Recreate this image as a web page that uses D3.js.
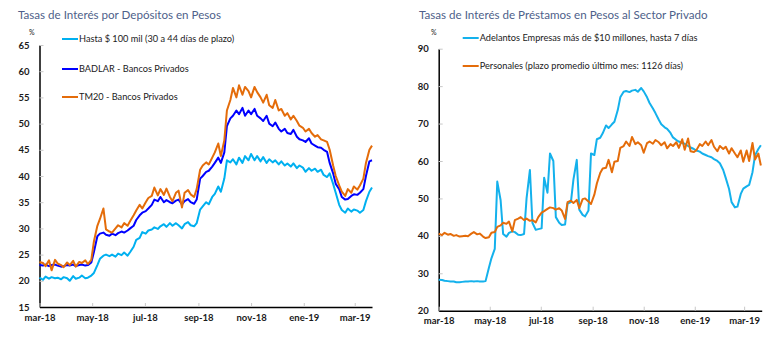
<!DOCTYPE html>
<html>
<head>
<meta charset="utf-8">
<script src="https://cdn.jsdelivr.net/npm/d3@7/dist/d3.min.js"></script>
<style>
body { margin: 0; background: #fff; }
svg text { font-family: Lato, "Open Sans", sans-serif; }
</style>
</head>
<body>
<svg width="779" height="340"></svg>
<script>
// dates shared by both panels (two readings per week)
const dates = [
  "2018-03-01","2018-03-05","2018-03-08","2018-03-12","2018-03-15","2018-03-19","2018-03-22","2018-03-26","2018-03-29",
  "2018-04-02","2018-04-05","2018-04-09","2018-04-12","2018-04-16","2018-04-19","2018-04-23","2018-04-26","2018-04-30",
  "2018-05-03","2018-05-07","2018-05-10","2018-05-14","2018-05-17","2018-05-21","2018-05-24","2018-05-28","2018-05-31",
  "2018-06-04","2018-06-07","2018-06-11","2018-06-14","2018-06-18","2018-06-21","2018-06-25","2018-06-28",
  "2018-07-02","2018-07-05","2018-07-09","2018-07-12","2018-07-16","2018-07-19","2018-07-23","2018-07-26","2018-07-30",
  "2018-08-02","2018-08-06","2018-08-09","2018-08-13","2018-08-16","2018-08-20","2018-08-23","2018-08-27","2018-08-30",
  "2018-09-03","2018-09-06","2018-09-10","2018-09-13","2018-09-17","2018-09-20","2018-09-24","2018-09-27",
  "2018-10-01","2018-10-04","2018-10-08","2018-10-11","2018-10-15","2018-10-18","2018-10-22","2018-10-25","2018-10-29",
  "2018-11-01","2018-11-05","2018-11-08","2018-11-12","2018-11-15","2018-11-19","2018-11-22","2018-11-26","2018-11-29",
  "2018-12-03","2018-12-06","2018-12-10","2018-12-13","2018-12-17","2018-12-20","2018-12-24","2018-12-27","2018-12-31",
  "2019-01-03","2019-01-07","2019-01-10","2019-01-14","2019-01-17","2019-01-21","2019-01-24","2019-01-28","2019-01-31",
  "2019-02-04","2019-02-07","2019-02-11","2019-02-14","2019-02-18","2019-02-21","2019-02-25","2019-02-28",
  "2019-03-04","2019-03-07","2019-03-11","2019-03-14","2019-03-18","2019-03-21"
];

// left panel: deposit rates (%)
const hasta100 = [
  20.6,20.2,20.8,20.4,20.7,20.5,20.6,20.3,20.7,
  20.5,20.0,20.9,20.4,20.6,21.0,20.5,20.6,21.0,
  21.5,23.0,24.2,24.8,25.0,24.7,25.0,24.6,25.2,
  24.9,25.4,24.8,25.5,26.5,27.8,28.2,29.3,
  29.0,29.6,29.8,30.2,29.9,30.4,30.8,30.3,31.0,
  30.5,31.0,30.6,30.0,30.8,31.2,30.6,30.4,31.0,
  33.6,34.2,35.0,34.6,36.0,36.6,38.0,37.0,
  39.5,43.0,42.6,43.2,42.2,43.5,42.5,43.8,43.0,
  44.2,43.0,43.8,42.8,43.6,42.5,43.2,42.6,43.0,
  42.2,42.8,42.0,42.4,41.8,42.4,41.5,42.0,41.6,
  40.8,41.5,41.0,41.4,40.8,41.2,40.2,39.8,40.5,
  38.5,36.8,34.5,33.5,33.0,33.8,33.2,33.6,
  33.4,33.0,33.5,35.2,37.0,37.8
];
const badlar = [
  23.0,22.9,23.1,22.8,23.0,23.1,22.9,22.7,22.8,
  23.0,22.9,23.1,22.8,23.0,23.1,22.9,23.0,23.5,
  25.5,28.5,29.0,29.2,28.8,28.6,29.0,28.7,29.1,
  29.4,29.2,29.6,30.0,30.5,31.6,32.5,33.0,
  33.3,33.8,34.5,35.5,35.2,36.0,35.0,35.4,35.0,
  34.8,35.3,35.5,34.6,35.2,35.6,35.0,34.7,35.5,
  39.5,40.0,40.8,41.0,41.8,42.5,43.5,42.5,
  44.5,49.5,51.0,51.5,52.5,51.8,53.0,51.5,52.5,
  51.8,52.8,51.5,51.0,50.5,51.5,50.0,49.5,50.2,
  49.0,48.5,49.0,48.2,48.0,48.8,47.5,47.0,46.8,
  46.5,47.2,46.2,45.8,45.5,45.4,45.0,44.6,42.5,
  40.5,38.5,37.5,36.0,35.5,35.6,36.2,36.5,
  36.4,36.8,37.5,40.0,42.8,43.0
];
const tm20 = [
  23.6,23.4,22.8,23.9,22.0,24.0,23.3,23.0,22.6,
  23.5,23.0,23.8,22.7,23.6,23.4,23.9,23.2,24.0,
  27.5,30.5,31.8,33.8,29.8,29.4,29.2,30.0,30.6,
  30.2,31.0,30.5,31.4,32.5,33.4,34.5,33.8,
  35.0,35.8,36.2,37.8,36.3,37.5,36.4,37.6,36.0,
  35.2,36.8,37.2,34.0,36.8,37.3,36.5,36.0,37.5,
  41.2,42.0,42.6,42.2,43.5,44.5,46.2,43.8,
  46.8,52.5,54.5,56.8,55.0,57.3,55.5,57.0,56.2,
  55.0,57.0,56.0,55.0,54.0,55.5,53.5,53.0,54.5,
  52.5,52.8,51.5,52.0,50.8,51.5,50.5,49.6,49.2,
  48.5,49.0,48.2,47.5,47.8,47.0,46.8,46.5,45.0,
  42.0,40.0,38.2,37.0,36.2,37.5,36.8,38.0,
  37.4,38.2,39.5,42.5,45.0,45.8
];

// right panel: loan rates (%)
const adelantos = [
  28.3,28.2,28.0,27.9,27.8,27.8,27.6,27.6,27.7,
  27.8,27.8,27.9,27.8,27.9,27.8,27.8,27.9,31.5,
  34.0,36.5,54.5,49.5,40.5,39.8,40.8,41.2,41.0,
  40.3,40.2,40.5,50.0,57.6,43.5,41.6,41.8,
  42.0,55.5,51.5,62.0,60.0,45.0,43.5,42.9,43.0,
  48.6,49.0,55.0,60.3,47.0,45.6,45.2,46.8,62.0,
  61.6,65.8,66.2,67.4,69.5,68.8,69.8,70.5,
  73.6,77.0,78.5,78.7,78.4,78.8,79.0,78.5,79.5,
  78.6,77.0,75.5,74.0,72.8,71.0,69.8,69.0,68.6,
  67.5,66.3,65.6,65.2,64.8,64.6,64.0,63.6,63.2,
  62.8,62.5,62.0,61.6,61.3,61.0,60.5,60.0,59.4,
  57.6,55.5,52.5,49.0,47.6,47.8,51.2,52.6,
  53.2,53.6,57.0,61.5,63.2,64.2
];
const personales = [
  40.6,40.2,40.8,40.3,40.5,40.0,40.2,39.8,39.9,
  40.0,39.9,40.6,41.0,40.4,40.6,39.8,39.4,39.6,
  40.8,41.0,42.4,42.8,43.5,43.2,43.8,41.2,44.2,
  44.6,45.0,44.2,44.6,44.0,44.2,43.6,45.0,
  46.2,46.6,47.2,47.6,47.4,47.0,47.4,46.8,44.5,
  49.0,49.4,48.8,49.6,47.4,49.8,50.0,49.2,48.5,
  51.0,54.0,56.8,58.0,58.2,60.3,57.0,59.8,
  60.0,63.5,64.0,65.2,64.0,66.4,64.5,65.0,64.2,
  62.2,64.8,65.2,64.6,65.6,65.0,64.2,65.0,63.4,
  64.5,64.0,65.0,63.5,65.8,63.0,66.0,62.6,62.4,
  62.9,64.5,64.0,65.2,64.2,65.6,63.8,62.6,64.0,
  63.2,63.8,62.0,63.4,62.0,61.0,62.8,59.8,
  62.8,60.0,64.8,60.4,62.0,58.8
];

// axis ticks
const monthTicks = ["2018-03-01","2018-05-01","2018-07-01","2018-09-01","2018-11-01","2019-01-01","2019-03-01"];
const monthLabels = ["mar-18","may-18","jul-18","sep-18","nov-18","ene-19","mar-19"];
const leftYTicks = [15,20,25,30,35,40,45,50,55,60,65];
const rightYTicks = [20,30,40,50,60,70,80,90];

const parse = d3.timeParse("%Y-%m-%d");
const parsedDates = dates.map(parse);
const tickDates = monthTicks.map(parse);

let svg = d3.select("svg");

// draws one panel with its axes, lines and legend
let drawPanel = ({x0, x1, y0, y1, yDomain, yTicks, endDate, title, titleX, pctX, series, legendX, legendY, labelPad}) => {
  let x = d3.scaleTime().domain([parse("2018-03-01"), parse(endDate)]).range([x0, x1]);
  let y = d3.scaleLinear().domain(yDomain).range([y1, y0]);

  svg.append("text")
    .attr("x", titleX).attr("y", 19)
    .attr("fill", "#4e5f8a")
    .attr("font-size", 11.6)
    .text(title);

  svg.append("text")
    .attr("x", pctX).attr("y", 35)
    .attr("font-size", 7)
    .attr("fill", "#222")
    .text("%");

  let yAxis = svg.append("g")
    .attr("transform", `translate(${x0},0)`)
    .call(d3.axisLeft(y).tickValues(yTicks).tickSizeInner(-4).tickSizeOuter(0).tickPadding(10));
  let xAxis = svg.append("g")
    .attr("transform", `translate(0,${y1})`)
    .call(d3.axisBottom(x).tickValues(tickDates).tickFormat((d, i) => monthLabels[i])
      .tickSizeInner(-4).tickSizeOuter(0).tickPadding(labelPad));

  [yAxis, xAxis].forEach(g => {
    g.select(".domain").attr("stroke", "#000").attr("stroke-width", 1.5);
    g.selectAll(".tick line").attr("stroke", "#c8c8c8");
    g.selectAll(".tick text")
      .attr("font-size", 9.5)
      .attr("font-weight", "bold")
      .attr("fill", "#1a1a1a")
      .style("font-family", "Lato, sans-serif");
  });

  let line = d3.line()
    .x((d, i) => x(parsedDates[i]))
    .y(d => y(d));

  series.forEach(s => {
    svg.append("path")
      .datum(s.values)
      .attr("fill", "none")
      .attr("stroke", s.color)
      .attr("stroke-width", 2)
      .attr("stroke-linejoin", "round")
      .attr("d", line);
  });

  // legend
  series.forEach((s, i) => {
    let ly = legendY[i];
    svg.append("line")
      .attr("x1", legendX).attr("x2", legendX + 16)
      .attr("y1", ly).attr("y2", ly)
      .attr("stroke", s.color).attr("stroke-width", 2);
    svg.append("text")
      .attr("x", legendX + 17).attr("y", ly + 3.3)
      .attr("font-size", 9.2)
      .attr("fill", "#1a1a1a")
      .text(s.name);
  });
};

drawPanel({
  x0: 39.5, x1: 372, y0: 45, y1: 307,
  yDomain: [15, 65], yTicks: leftYTicks, endDate: "2019-03-21",
  title: "Tasas de Interés por Depósitos en Pesos", titleX: 18, pctX: 29,
  series: [
    {name: "Hasta $ 100 mil (30 a 44 días de plazo)", values: hasta100, color: "#00b0f0"},
    {name: "BADLAR - Bancos Privados", values: badlar, color: "#0000ff"},
    {name: "TM20 - Bancos Privados", values: tm20, color: "#e46c0a"}
  ],
  legendX: 62, legendY: [39, 69, 97], labelPad: 7.5
});

drawPanel({
  x0: 438.7, x1: 761.7, y0: 48.7, y1: 310.7,
  yDomain: [20, 90], yTicks: rightYTicks, endDate: "2019-03-22",
  title: "Tasas de Interés de Préstamos en Pesos al Sector Privado", titleX: 419, pctX: 431,
  series: [
    {name: "Adelantos Empresas más de $10 millones, hasta 7 días", values: adelantos, color: "#14b1ec"},
    {name: "Personales (plazo promedio último mes: 1126 días)", values: personales, color: "#e46c0a"}
  ],
  legendX: 462.7, legendY: [38, 66], labelPad: 7
});
</script>
</body>
</html>
